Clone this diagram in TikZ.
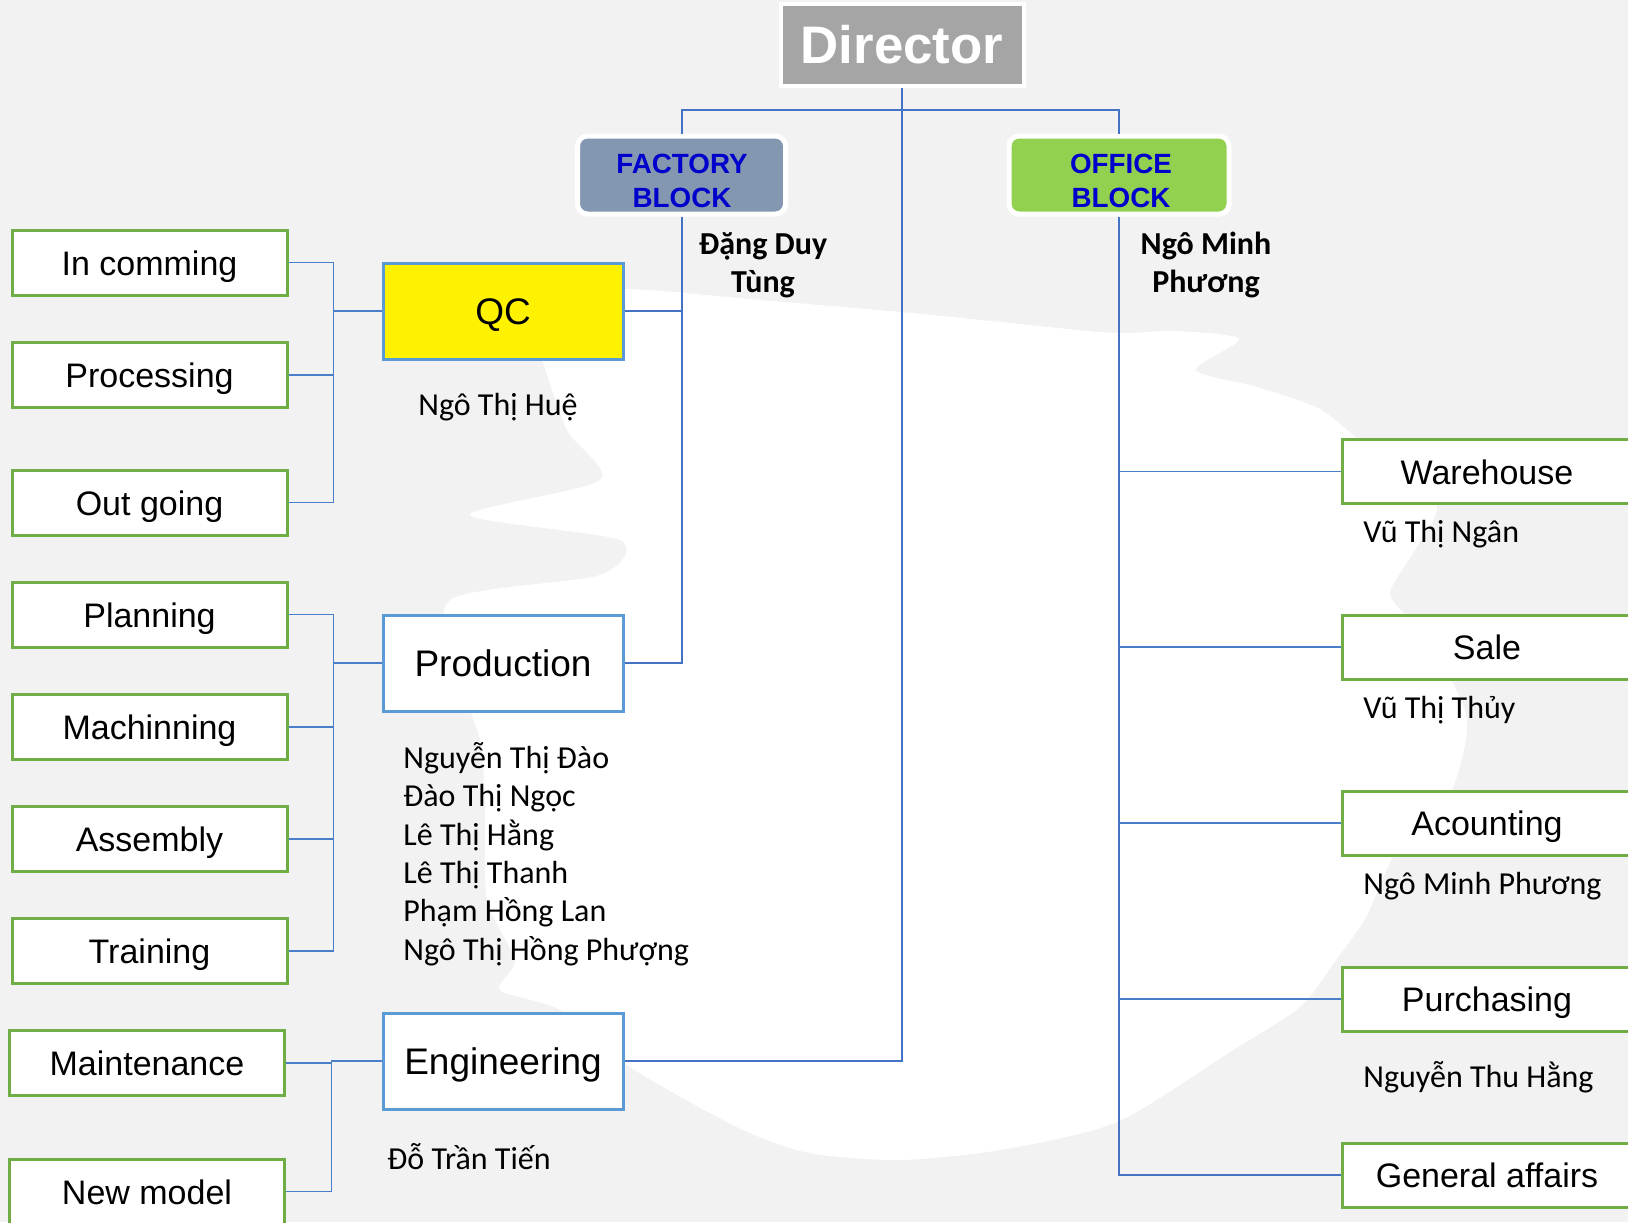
\documentclass[tikz,border=0pt]{standalone}
\usepackage{fontspec}
\setmainfont{Liberation Sans}
\newfontfamily\namefont{Carlito}
\definecolor{bg}{HTML}{F2F2F2}
\definecolor{lineblue}{HTML}{4472C4}
\definecolor{boxblue}{HTML}{5B9BD5}
\definecolor{boxgreen}{HTML}{70AD47}
\definecolor{dirgray}{HTML}{A5A5A5}
\definecolor{factfill}{HTML}{8497B0}
\definecolor{offfill}{HTML}{92D050}
\definecolor{blocktext}{HTML}{0000CC}
\begin{document}
\begin{tikzpicture}[x=0.5pt,y=-0.5pt,
  subbox/.style={draw=boxgreen, line width=1.5pt, fill=white, minimum width=137.5pt, minimum height=32.5pt, inner sep=0pt, text height=12.5pt, text depth=0pt, font=\fontsize{17}{20}\selectfont},
  rsubbox/.style={subbox, minimum width=145pt, minimum height=32pt},
  dept/.style={draw=boxblue, line width=1.5pt, fill=white, minimum width=120pt, minimum height=48pt, inner sep=0pt, text height=13pt, text depth=0pt, font=\fontsize{18.5}{22}\selectfont},
  blockbox/.style={draw=white, line width=2.5pt, rounded corners=5pt, minimum height=39pt, inner sep=0pt},
  blocklabel/.style={inner sep=0pt, align=center, text=blocktext, font=\bfseries\fontsize{13.9}{17}\selectfont},
  person/.style={font=\namefont\fontsize{16}{19.2}\selectfont, inner sep=0pt, align=left, anchor=west},
  headname/.style={font=\namefont\bfseries\fontsize{16}{19.2}\selectfont, inner sep=0pt, align=center},
  conn/.style={draw=lineblue, line width=1pt},
  sconn/.style={draw=lineblue!70!boxblue, line width=0.75pt}
]
\useasboundingbox (0,0) rectangle (1628,1222);
\clip (0,0) rectangle (1628,1222);
\fill[bg] (0,0) rectangle (1628,1222);
% white map-like blob
\fill[white] plot[smooth cycle, tension=0.45] coordinates {
 (623,289) (760,300) (901,312) (1010,323) (1114,333) (1175,331) (1239,339) (1196,370)
 (1257,387) (1318,408) (1357,438) (1400,470) (1437,507) (1413,553) (1390,593) (1410,620)
 (1437,653) (1467,720) (1453,787) (1420,830) (1393,857) (1366,917) (1336,960) (1300,1007)
 (1233,1050) (1117,1122) (1000,1150) (900,1160) (809,1153) (737,1127) (630,1067) (560,1010)
 (500,990) (515,960) (487,900) (485,800) (480,740) (460,680) (450,600) (600,575) (620,540)
 (470,515) (600,480) (567,430) (543,363) (520,300)};

% Director and blocks
\node[fill=dirgray, draw=white, line width=2pt, minimum width=121.5pt, minimum height=41pt, inner sep=0pt,
      text=white, font=\bfseries\fontsize{26.4}{30}\selectfont] (director) at (902,44.5) {Director};
\node[blockbox, fill=factfill, minimum width=104pt] (factory) at (681.5,175) {};
\node[blockbox, fill=offfill, minimum width=110pt] (office) at (1119,175) {};
\node[blocklabel] (factorylabel) at (682,181) {FACTORY\\BLOCK};
\node[blocklabel] (officelabel) at (1121,181) {OFFICE\\BLOCK};
\node[headname] (factoryhead) at (763,265) {Đặng Duy\\Tùng};
\node[headname] (officehead) at (1206,265) {Ngô Minh\\Phương};

% Departments
\node[dept, fill=yellow] (qc) at (503,311) {QC};
\node[dept] (production) at (503,663) {Production};
\node[dept] (engineering) at (503,1061) {Engineering};
\node[person, anchor=center] (qcname) at (498,407) {Ngô Thị Huệ};
\node[person] (prodnames) at (403,854) {Nguyễn Thị Đào\\Đào Thị Ngọc\\Lê Thị Hằng\\Lê Thị Thanh\\Phạm Hồng Lan\\Ngô Thị Hồng Phượng};
\node[person] (engname) at (387,1157) {Đỗ Trần Tiến};

% Left sub units
\node[subbox] (incoming) at (149.5,262.5) {In comming};
\node[subbox] (processing) at (149.5,375) {Processing};
\node[subbox] (outgoing) at (149.5,502.5) {Out going};
\node[subbox] (planning) at (149.5,614.5) {Planning};
\node[subbox] (machinning) at (149.5,727) {Machinning};
\node[subbox] (assembly) at (149.5,839) {Assembly};
\node[subbox] (training) at (149.5,951) {Training};
\node[subbox] (maintenance) at (147,1063) {Maintenance};
\node[subbox] (newmodel) at (147,1191.5) {New model};

% Right units
\node[rsubbox] (warehouse) at (1487,471.5) {Warehouse};
\node[rsubbox] (sale) at (1487,647) {Sale};
\node[rsubbox] (acounting) at (1487,823) {Acounting};
\node[rsubbox] (purchasing) at (1487,999) {Purchasing};
\node[rsubbox] (general) at (1487,1175) {General affairs};
\node[person] (whname) at (1363,534) {Vũ Thị Ngân};
\node[person] (salename) at (1363,710) {Vũ Thị Thủy};
\node[person] (accname) at (1363,886) {Ngô Minh Phương};
\node[person] (purname) at (1363,1077) {Nguyễn Thu Hằng};

% Connectors
\draw[conn] (factory.north) |- (director.south |- 0,110) -| (office.north);
\draw[conn] (director.south) |- (engineering.east);
\draw[conn] (factory.south) |- (qc.east);
\draw[conn] (factory.south) |- (production.east);
\draw[conn] (office.south) |- (general.west);
\foreach \n in {warehouse,sale,acounting,purchasing}{
  \draw[sconn] (office.south |- \n.west) -- (\n.west);
}
\foreach \n in {incoming,processing,outgoing}{
  \draw[sconn] (qc.west) -- ++(-48,0) |- (\n.east);
}
\foreach \n in {planning,machinning,assembly,training}{
  \draw[sconn] (production.west) -- ++(-48,0) |- (\n.east);
}
\foreach \n in {maintenance,newmodel}{
  \draw[sconn] (engineering.west) -- ++(-50,0) |- (\n.east);
}
\end{tikzpicture}
\end{document}
